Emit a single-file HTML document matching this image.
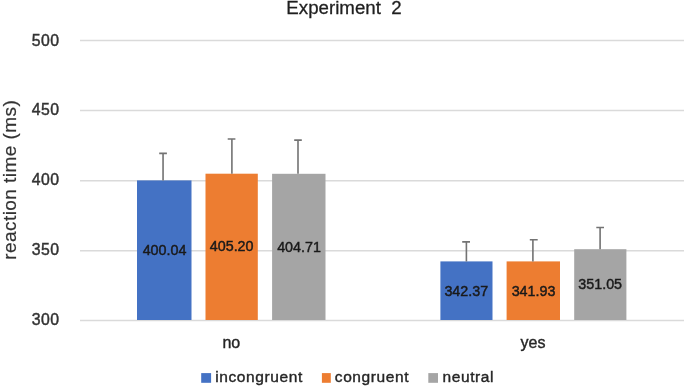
<!DOCTYPE html>
<html><head><meta charset="utf-8"><style>
html,body{margin:0;padding:0;background:#fff;}
body{width:685px;height:386px;overflow:hidden;}
svg{display:block;will-change:transform;}
text{font-family:"Liberation Sans",sans-serif;}
</style></head><body>
<svg width="685" height="386" viewBox="0 0 685 386" xmlns="http://www.w3.org/2000/svg">
<rect width="685" height="386" fill="#fff"/>
<!-- gridlines -->
<g stroke="#dadada" stroke-width="1.5">
<line x1="80" y1="40.6" x2="684" y2="40.6"/>
<line x1="80" y1="110.5" x2="684" y2="110.5"/>
<line x1="80" y1="180.8" x2="684" y2="180.8"/>
<line x1="80" y1="250.7" x2="684" y2="250.7"/>
<line x1="80" y1="320.6" x2="684" y2="320.6"/>
</g>
<!-- title -->
<text x="344" y="14.2" font-size="18.7" fill="#1f1f1f" stroke="#1f1f1f" stroke-width="0.3" text-anchor="middle" xml:space="preserve">Experiment  2</text>
<!-- y labels -->
<g font-size="15.8" fill="#333" stroke="#333" stroke-width="0.45" text-anchor="end" letter-spacing="0.5">
<text x="59.5" y="45.7">500</text>
<text x="59.5" y="115.2">450</text>
<text x="59.5" y="184.9">400</text>
<text x="59.5" y="254.8">350</text>
<text x="59.5" y="324.6">300</text>
</g>
<!-- y title -->
<text transform="translate(15.7,179.8) rotate(-90)" font-size="19" fill="#333" stroke="#333" stroke-width="0.2" text-anchor="middle" letter-spacing="0.45">reaction time (ms)</text>
<!-- bars -->
<rect x="137" y="180.4" width="54.5" height="139.6" fill="#4472c4"/>
<rect x="205.5" y="173.7" width="52.3" height="146.3" fill="#ed7d31"/>
<rect x="272.1" y="173.8" width="53.4" height="146.2" fill="#a5a5a5"/>
<rect x="440.4" y="261.4" width="52.1" height="58.6" fill="#4472c4"/>
<rect x="506.6" y="261.4" width="53.4" height="58.6" fill="#ed7d31"/>
<rect x="574.2" y="249.2" width="52.2" height="70.8" fill="#a5a5a5"/>
<!-- error bars -->
<g stroke="#737373" stroke-width="1.6" fill="none">
<path d="M163.05 180.4V153.4M159.2 153.4H166.9"/>
<path d="M231.9 173.7V139M227.7 139H235.4"/>
<path d="M298 173.8V140.1M294.2 140.1H301.8"/>
<path d="M466.4 261.4V241.9M462.2 241.9H470"/>
<path d="M532.9 261.4V239.7M529.8 239.7H537.7"/>
<path d="M600.1 249.2V227.5M596.3 227.5H604"/>
</g>
<!-- data labels -->
<g font-size="14.3" fill="#1a1a1a" stroke="#1a1a1a" stroke-width="0.45" text-anchor="middle">
<text x="164.5" y="254.7">400.04</text>
<text x="231.65" y="251.3">405.20</text>
<text x="299" y="252.1">404.71</text>
<text x="466.3" y="295.5">342.37</text>
<text x="533.5" y="295.5">341.93</text>
<text x="600.2" y="288.9">351.05</text>
</g>
<!-- categories -->
<g font-size="16" fill="#262626" stroke="#262626" stroke-width="0.4" text-anchor="middle">
<text x="231.3" y="347.6">no</text>
<text x="533" y="347.6">yes</text>
</g>
<!-- legend -->
<rect x="201.2" y="373.1" width="9.9" height="9.7" fill="#4472c4"/>
<rect x="321.9" y="373.1" width="8.9" height="9.7" fill="#ed7d31"/>
<rect x="428.3" y="373.1" width="9.7" height="9.7" fill="#a5a5a5"/>
<g font-size="15.5" fill="#262626" stroke="#262626" stroke-width="0.4" letter-spacing="0.6">
<text x="215.2" y="381.8">incongruent</text>
<text x="334.8" y="381.8">congruent</text>
<text x="442.5" y="381.8">neutral</text>
</g>
</svg>
</body></html>
